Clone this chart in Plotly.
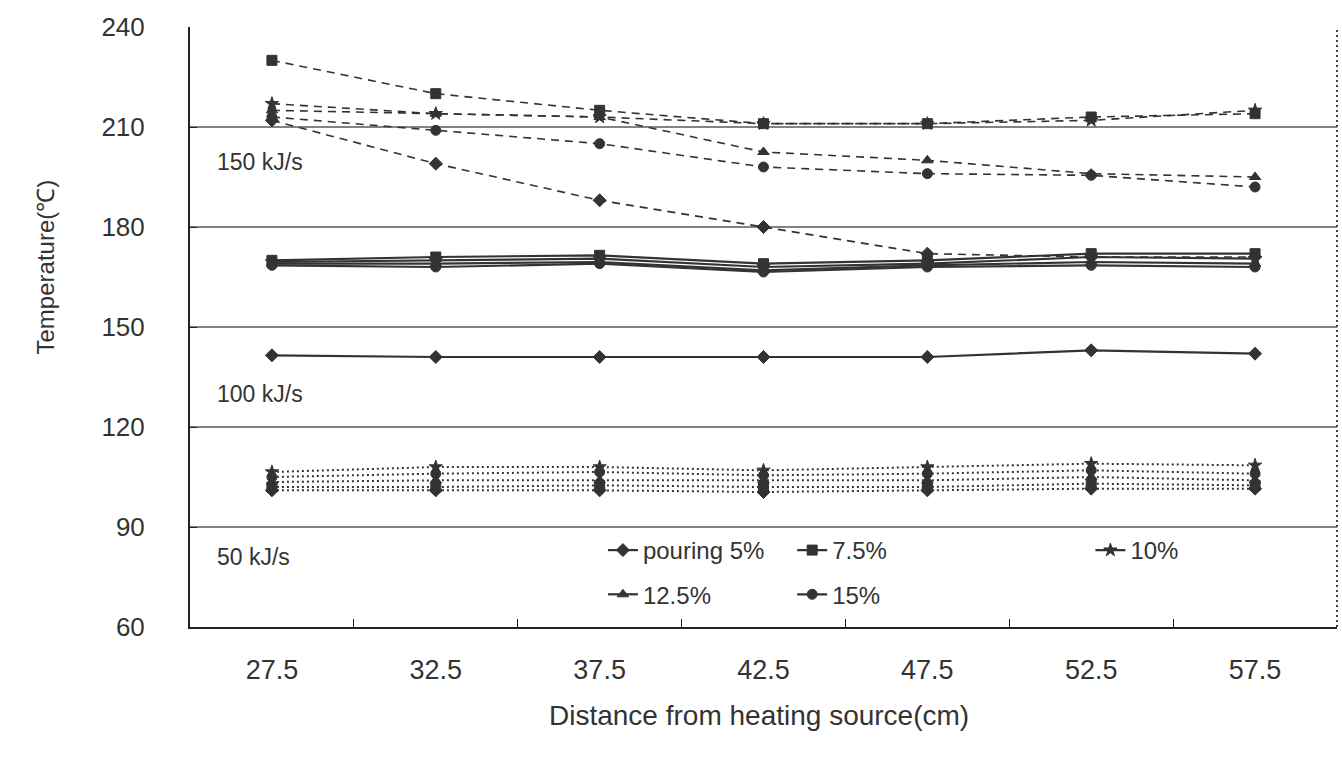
import plotly.graph_objects as go

# ---------------- data ----------------
distance = ["27.5", "32.5", "37.5", "42.5", "47.5", "52.5", "57.5"]
series_names = ["pouring 5%", "7.5%", "10%", "12.5%", "15%"]
series_symbols = ["diamond", "square", "star", "triangle-up", "circle"]
series_legends = ["legend", "legend2", "legend3", "legend", "legend2"]

# 150 kJ/s (dashed)
t150_p5 = [212, 199, 188, 180, 172, 171, 171]
t150_p75 = [230, 220, 215, 211, 211, 213, 214]
t150_p10 = [217, 214, 213, 211, 211, 212, 215]
t150_p125 = [215, 214, 213, 202.5, 200, 196, 195]
t150_p15 = [213, 209, 205, 198, 196, 195.5, 192]

# 100 kJ/s (solid)
t100_p5 = [141.5, 141, 141, 141, 141, 143, 142]
t100_p75 = [170, 171, 171.5, 169, 170, 172, 172]
t100_p10 = [169.5, 170, 170.5, 168, 169, 171, 170.5]
t100_p125 = [169, 169, 169.5, 167, 168.5, 169.5, 169]
t100_p15 = [168.5, 168, 169, 166.5, 168, 168.5, 168]

# 50 kJ/s (dotted)
t50_p5 = [101, 101, 101, 100.5, 101, 101.5, 101.5]
t50_p75 = [102, 102, 102.5, 102, 102, 103, 102.5]
t50_p10 = [106.5, 108, 108, 107, 108, 109, 108.5]
t50_p125 = [103.5, 104, 104, 104, 104, 105, 104]
t50_p15 = [105, 106, 106.5, 105.5, 106, 107, 106]

power_labels = ["150 kJ/s", "100 kJ/s", "50 kJ/s"]
power_label_y = [199.5, 130, 81]
grid_levels = [90, 120, 150, 180, 210]
y_ticks = [60, 90, 120, 150, 180, 210, 240]

groups = [
    ("150 kJ/s", [t150_p5, t150_p75, t150_p10, t150_p125, t150_p15], "8px,6px", 1.6, False),
    ("100 kJ/s", [t100_p5, t100_p75, t100_p10, t100_p125, t100_p15], "solid", 2.2, True),
    ("50 kJ/s", [t50_p5, t50_p75, t50_p10, t50_p125, t50_p15], "2px,3px", 2.0, False),
]

INK = "#333333"
FONT = "Liberation Sans"

fig = go.Figure()
for gname, vals, dash, lw, show in groups:
    for i, v in enumerate(vals):
        fig.add_trace(go.Scatter(
            x=distance, y=v, mode="lines+markers",
            name=series_names[i], legendgroup=series_names[i],
            legend=series_legends[i], showlegend=show,
            line=dict(color=INK, width=lw, dash=dash),
            marker=dict(symbol=series_symbols[i], size=10, color=INK,
                        line=dict(color=INK, width=1)),
        ))

shapes = []
for g in grid_levels:
    shapes.append(dict(type="line", xref="paper", yref="y", x0=0, x1=1, y0=g, y1=g,
                       line=dict(color="#5a5a5a", width=1.6), layer="below"))
shapes.append(dict(type="line", xref="paper", yref="paper", x0=1, x1=1, y0=0, y1=1,
                   line=dict(color="#444444", width=2, dash="2px,3px")))

annotations = []
for lab, yv in zip(power_labels, power_label_y):
    annotations.append(dict(text=lab, xref="paper", yref="y", x=0.022, y=yv,
                            xanchor="left", yanchor="middle", showarrow=False,
                            font=dict(family=FONT, size=23, color=INK)))
annotations.append(dict(text="Temperature(℃)", xref="paper", yref="paper",
                        x=-0.126, y=0.60, xanchor="center", yanchor="middle",
                        textangle=-90, showarrow=False,
                        font=dict(family=FONT, size=24, color=INK)))
annotations.append(dict(text="Distance from heating source(cm)", xref="paper", yref="paper",
                        x=0.496, y=-0.148, xanchor="center", yanchor="middle",
                        showarrow=False, font=dict(family=FONT, size=28, color=INK)))

legend_style = dict(bgcolor="rgba(0,0,0,0)", borderwidth=0, orientation="v",
                    xanchor="left", yanchor="top", tracegroupgap=10,
                    font=dict(family=FONT, size=24, color=INK), itemwidth=30)

fig.update_layout(
    width=1342, height=758,
    margin=dict(l=190, r=5, t=27, b=131),
    paper_bgcolor="white", plot_bgcolor="white",
    font=dict(family=FONT, color=INK),
    shapes=shapes, annotations=annotations,
    legend=dict(x=0.36, y=0.165, **legend_style),
    legend2=dict(x=0.525, y=0.165, **legend_style),
    legend3=dict(x=0.785, y=0.165, **legend_style),
    xaxis=dict(type="category", range=[-0.5, 6.5], showgrid=False, zeroline=False,
               showline=True, linecolor="#222222", linewidth=2,
               ticks="inside", tickson="boundaries", ticklen=8, tickcolor="#222222",
               tickfont=dict(family=FONT, size=27, color=INK), ticklabelstandoff=18),
    yaxis=dict(range=[60, 240], tickvals=y_ticks, showgrid=False, zeroline=False,
               showline=True, linecolor="#222222", linewidth=2,
               ticks="inside", ticklen=7, tickcolor="#222222",
               tickfont=dict(family=FONT, size=26, color=INK), ticklabelstandoff=38),
)

fig.write_html("out.html")
